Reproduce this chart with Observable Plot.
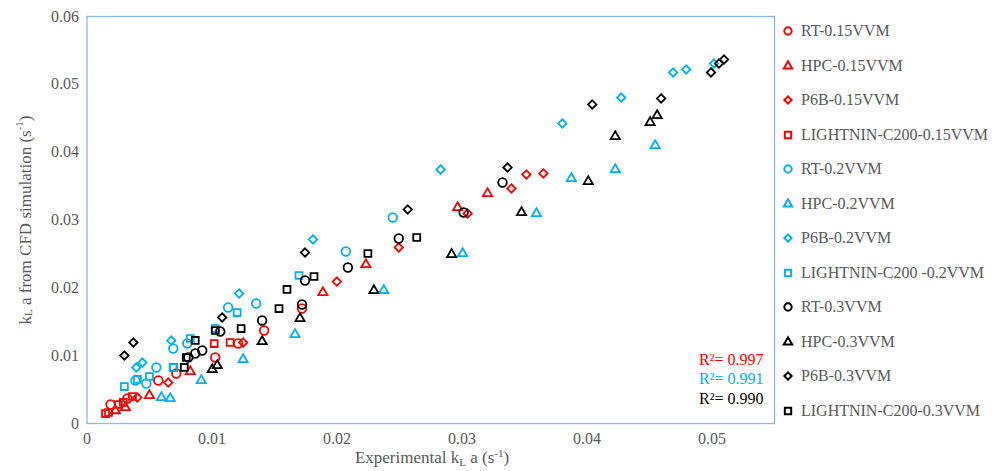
<!DOCTYPE html>
<html><head><meta charset="utf-8">
<script src="https://cdn.jsdelivr.net/npm/d3@7"></script>
<script src="https://cdn.jsdelivr.net/npm/@observablehq/plot@0.6"></script>
<style>
body{margin:0;background:#fff;font-family:"Liberation Serif","Times New Roman","DejaVu Serif",serif;}
#wrap{position:relative;width:1007px;height:471px;overflow:hidden;}
#legend{position:absolute;left:781px;top:14px;}
.row{height:34.5px;display:flex;align-items:center;font-size:16px;color:#595959;white-space:nowrap;}
.row svg{margin-right:6px;}
</style></head><body><div id="wrap"><div id="chart"></div><div id="legend"></div></div>
<script>
// ---- data (x = experimental kLa, y = CFD kLa), s^-1 ----
const RT_015 = [[0.00188,0.0028],[0.00323,0.00369],[0.00571,0.00634],[0.00714,0.00737],[0.01026,0.00973],[0.01209,0.01179],[0.01417,0.01371],[0.0172,0.01695]];
const HPC_015 = [[0.00227,0.0019],[0.00307,0.00236],[0.00499,0.00413],[0.00826,0.00767],[0.01887,0.01931],[0.02231,0.02344],[0.02965,0.03184],[0.03204,0.03391]];
const P6B_015 = [[0.00403,0.00383],[0.0065,0.00604],[0.01249,0.01194],[0.01999,0.02093],[0.02494,0.02595],[0.03045,0.03096],[0.03396,0.03465],[0.03515,0.03671],[0.03651,0.03686]];
const LC200_015 = [[0.00148,0.00147],[0.00172,0.00162],[0.00251,0.0028],[0.00291,0.0031],[0.00363,0.00398],[0.0069,0.00826],[0.01018,0.01179],[0.01145,0.01194]];
const RT_02 = [[0.00387,0.00634],[0.00475,0.0059],[0.00555,0.00826],[0.0069,0.01106],[0.00802,0.01179],[0.01129,0.0171],[0.01353,0.01769],[0.02071,0.02536],[0.02446,0.03037]];
const HPC_02 = [[0.00595,0.00383],[0.00666,0.00369],[0.00914,0.00634],[0.01249,0.00944],[0.01664,0.01312],[0.02374,0.01961],[0.03005,0.02506],[0.03596,0.03096],[0.03875,0.03612],[0.04226,0.03745],[0.04545,0.04098]];
const P6B_02 = [[0.00395,0.00826],[0.00443,0.00899],[0.00674,0.01224],[0.01217,0.01917],[0.01808,0.02713],[0.02829,0.03745],[0.03803,0.04423],[0.04274,0.04806],[0.04689,0.05175],[0.04793,0.05219],[0.05016,0.05307]];
const LC200_02 = [[0.00299,0.00545],[0.00403,0.00649],[0.00499,0.00693],[0.0069,0.00826],[0.00826,0.01253],[0.01026,0.014],[0.01201,0.01636],[0.01696,0.02182]];
const RT_03 = [[0.0081,0.00973],[0.00866,0.01032],[0.00922,0.01076],[0.01066,0.01356],[0.01401,0.01519],[0.0172,0.01754],[0.01744,0.02108],[0.02087,0.023],[0.02494,0.02727],[0.03013,0.03111],[0.03324,0.03553]];
const HPC_03 = [[0.01002,0.00796],[0.01042,0.00855],[0.01401,0.01209],[0.01704,0.01548],[0.02295,0.01961],[0.02917,0.02492],[0.03476,0.03111],[0.0401,0.03568],[0.04226,0.04231],[0.04505,0.04438],[0.04561,0.04541]];
const P6B_03 = [[0.00299,0.01002],[0.00371,0.01194],[0.01081,0.01563],[0.01744,0.02521],[0.02566,0.03155],[0.03364,0.03774],[0.04042,0.04703],[0.04593,0.04792],[0.04992,0.05175],[0.05056,0.05307],[0.05096,0.05366]];
const LC200_03 = [[0.00778,0.00826],[0.00794,0.00973],[0.00866,0.01224],[0.01026,0.01371],[0.01233,0.014],[0.01536,0.01695],[0.016,0.01976],[0.01816,0.02167],[0.02247,0.02506],[0.02638,0.02742]];

const seriesNames = ["RT-0.15VVM","HPC-0.15VVM","P6B-0.15VVM","LIGHTNIN-C200-0.15VVM","RT-0.2VVM","HPC-0.2VVM","P6B-0.2VVM","LIGHTNIN-C200 -0.2VVM","RT-0.3VVM","HPC-0.3VVM","P6B-0.3VVM","LIGHTNIN-C200-0.3VVM"];
const seriesData = [RT_015,HPC_015,P6B_015,LC200_015,RT_02,HPC_02,P6B_02,LC200_02,RT_03,HPC_03,P6B_03,LC200_03];
const seriesColors = ["#FF0000","#FF0000","#FF0000","#FF0000","#00B0F0","#00B0F0","#00B0F0","#00B0F0","#000000","#000000","#000000","#000000"];
const seriesSymbols = ["circle","triangle","diamond2","square","circle","triangle","diamond2","square","circle","triangle","diamond2","square"];
const xTicks = [0,0.01,0.02,0.03,0.04,0.05];
const yTicks = [0,0.01,0.02,0.03,0.04,0.05,0.06];
const r2Labels = ["R\u00B2= 0.997","R\u00B2= 0.991","R\u00B2= 0.990"];
const r2Colors = ["#FF0000","#00B0F0","#000000"];

const fmt = d => String(+d.toFixed(2));
const frameColor = "#8DBBE8";
const symbolR = {circle: 4.3, triangle: 3.4, diamond2: 3.8, square: 3.9};
const FONT = "Liberation Serif, Times New Roman, DejaVu Serif, serif";

const marks = [Plot.frame({stroke: frameColor, strokeWidth: 1.3})];
seriesData.forEach((s, i) => {
  marks.push(Plot.dot(s, {x: d => d[0], y: d => d[1], symbol: seriesSymbols[i], stroke: seriesColors[i], fill: "none", r: symbolR[seriesSymbols[i]], strokeWidth: 1.8}));
});
r2Labels.forEach((t, i) => {
  marks.push(Plot.text([t], {text: d => d, frameAnchor: "bottom-right", textAnchor: "end", dx: -11, dy: -59 + i * 19.5, fill: r2Colors[i], fontSize: 16}));
});

const chart = Plot.plot({
  width: 1007, height: 471,
  marginLeft: 86.5, marginRight: 233, marginTop: 16, marginBottom: 48,
  style: {fontFamily: FONT, fontSize: "16px", color: "#595959", background: "#fff"},
  x: {domain: [0, 0.055], ticks: xTicks, tickFormat: fmt, tickSize: 0, tickPadding: 9, label: null},
  y: {domain: [0, 0.06], ticks: yTicks, tickFormat: fmt, tickSize: 0, tickPadding: 8, label: null},
  marks
});
document.getElementById("chart").appendChild(chart);

// axis titles with sub/superscripts
const svg = d3.select(chart);
const yl = svg.append("text").attr("transform", "translate(25,220) rotate(-90)")
  .attr("text-anchor", "middle").attr("dominant-baseline", "central")
  .attr("fill", "#595959").style("font-size", "17px").style("font-family", FONT);
yl.append("tspan").text("k");
yl.append("tspan").attr("dy", 3).style("font-size", "11px").text("L");
yl.append("tspan").attr("dy", -3).text(" a from CFD simulation (s");
yl.append("tspan").attr("dy", -6).style("font-size", "11px").text("-1");
yl.append("tspan").attr("dy", 6).text(")");

const xl = svg.append("text").attr("x", 432).attr("y", 463)
  .attr("text-anchor", "middle").attr("fill", "#595959").style("font-size", "17px").style("font-family", FONT);
xl.append("tspan").text("Experimental k");
xl.append("tspan").attr("dy", 3).style("font-size", "11px").text("L");
xl.append("tspan").attr("dy", -3).text(" a (s");
xl.append("tspan").attr("dy", -6).style("font-size", "11px").text("-1");
xl.append("tspan").attr("dy", 6).text(")");

// legend
const legend = d3.select("#legend");
seriesNames.forEach((n, i) => {
  const row = legend.append("div").attr("class", "row");
  const s = row.append("svg").attr("width", 14).attr("height", 14);
  const sym = {circle: d3.symbolCircle, triangle: d3.symbolTriangle, diamond2: d3.symbolDiamond2, square: d3.symbolSquare}[seriesSymbols[i]];
  const area = {circle: 42, triangle: 30, diamond2: 34, square: 40}[seriesSymbols[i]];
  s.append("path").attr("transform", "translate(7,7)").attr("d", d3.symbol(sym, area)())
    .attr("fill", "none").attr("stroke", seriesColors[i]).attr("stroke-width", 2);
  row.append("span").text(n);
});
</script></body></html>
